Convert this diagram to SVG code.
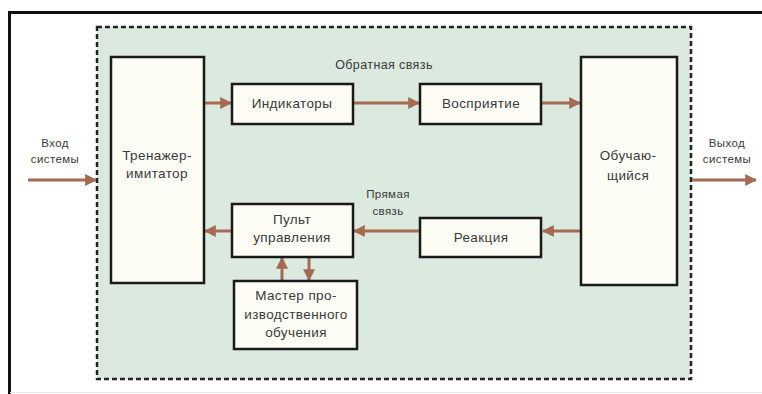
<svg xmlns="http://www.w3.org/2000/svg" width="762" height="394" viewBox="0 0 762 394">
<defs>
<marker id="ah" markerWidth="4" markerHeight="4" refX="3.6" refY="2" orient="auto" markerUnits="strokeWidth">
<path d="M0,0 L4,2 L0,4 Z" fill="#a56b52"/>
</marker>
<style>
.box{fill:#fdfdf6;stroke:#1a1a1a;stroke-width:2.5}
.t{font-family:"Liberation Sans",Arial,sans-serif;font-size:13.5px;fill:#3a3a3a;text-anchor:middle;letter-spacing:0.4px}
.s{font-family:"Liberation Sans",Arial,sans-serif;font-size:11.5px;fill:#3a3a3a;text-anchor:middle;letter-spacing:0.4px}
.c{stroke:#a56b52;stroke-width:3;fill:none;marker-end:url(#ah)}
</style>
</defs>
<rect x="0" y="0" width="762" height="394" fill="#ffffff"/>
<path d="M9.5,394 V12.5 H762" fill="none" stroke="#111" stroke-width="3"/>
<line x1="10" y1="392.5" x2="762" y2="392.5" stroke="#ececec" stroke-width="1"/>
<rect id="system" x="97" y="27" width="594" height="352" fill="#dce9de" stroke="#222" stroke-width="2.5" stroke-dasharray="5,3"/>
<g id="labels">
<text class="s" x="55" y="147">Вход</text>
<text class="s" x="55" y="163">системы</text>
<text class="s" x="727" y="147">Выход</text>
<text class="s" x="727" y="163">системы</text>
<text class="s" x="384" y="69" style="font-size:12.5px">Обратная связь</text>
<text class="s" x="388" y="198">Прямая</text>
<text class="s" x="388" y="215">связь</text>
</g>
<g id="connectors">
<line class="c" x1="28" y1="180" x2="96" y2="180"/>
<line class="c" x1="692" y1="180" x2="756" y2="180"/>
<line class="c" x1="205" y1="103" x2="231" y2="103"/>
<line class="c" x1="354" y1="103" x2="419" y2="103"/>
<line class="c" x1="542" y1="103" x2="580" y2="103"/>
<line class="c" x1="580" y1="231" x2="543" y2="231"/>
<line class="c" x1="419" y1="231" x2="354" y2="231"/>
<line class="c" x1="231" y1="231" x2="205" y2="231"/>
<line class="c" x1="282" y1="280" x2="282" y2="258"/>
<line class="c" x1="309" y1="258" x2="309" y2="280"/>
</g>
<g id="trainer">
<rect class="box" x="111" y="57" width="93" height="226"/>
<text class="t" x="157" y="160">Тренажер-</text>
<text class="t" x="157" y="178">имитатор</text>
</g>
<g id="indicators">
<rect class="box" x="232" y="84" width="121" height="40"/>
<text class="t" x="292" y="108">Индикаторы</text>
</g>
<g id="perception">
<rect class="box" x="420" y="84" width="121" height="40"/>
<text class="t" x="481" y="108">Восприятие</text>
</g>
<g id="learner">
<rect class="box" x="581" y="57" width="96" height="228"/>
<text class="t" x="628" y="160">Обучаю-</text>
<text class="t" x="628" y="180">щийся</text>
</g>
<g id="console">
<rect class="box" x="232" y="204" width="121" height="53"/>
<text class="t" x="292" y="224">Пульт</text>
<text class="t" x="292" y="242">управления</text>
</g>
<g id="reaction">
<rect class="box" x="420" y="218" width="121" height="39"/>
<text class="t" x="481" y="242">Реакция</text>
</g>
<g id="master">
<rect class="box" x="234" y="281" width="123" height="68"/>
<text class="t" x="296" y="300">Мастер про-</text>
<text class="t" x="296" y="319">изводственного</text>
<text class="t" x="296" y="337">обучения</text>
</g>
</svg>
